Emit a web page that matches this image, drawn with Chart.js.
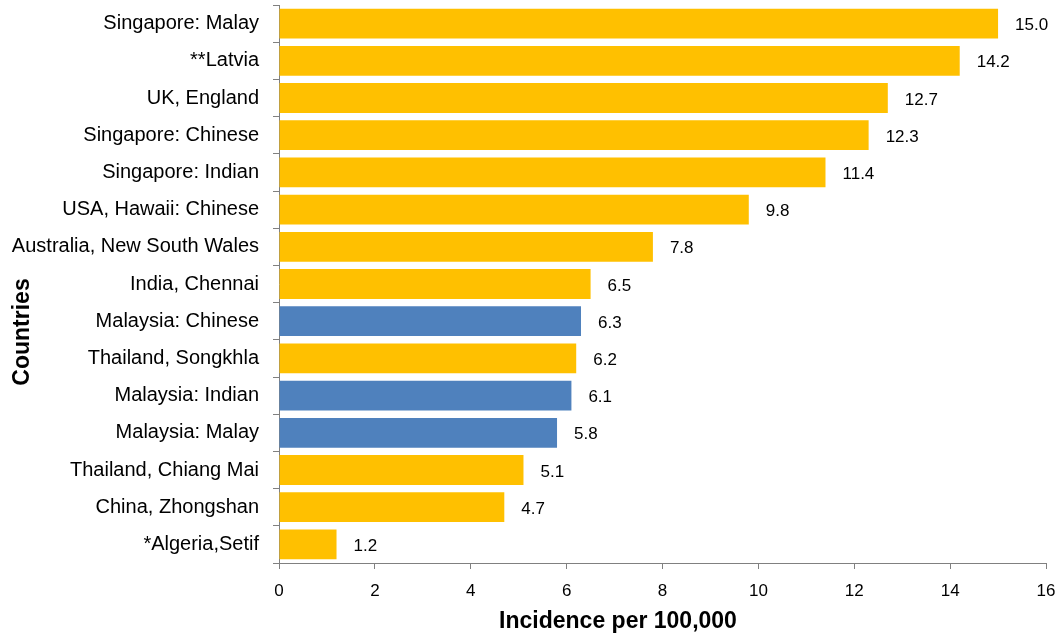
<!DOCTYPE html>
<html><head><meta charset="utf-8">
<script src="https://cdn.jsdelivr.net/npm/chart.js@4"></script>
<style>html,body{margin:0;padding:0;background:#fff;}#wrap{width:1063px;height:640px;}</style>
</head><body><div id="wrap"><canvas id="c" width="1063" height="640"></canvas></div>
<script>
const categories = ["Singapore: Malay","**Latvia","UK, England","Singapore: Chinese","Singapore: Indian","USA, Hawaii: Chinese","Australia, New South Wales","India, Chennai","Malaysia: Chinese","Thailand, Songkhla","Malaysia: Indian","Malaysia: Malay","Thailand, Chiang Mai","China, Zhongshan","*Algeria,Setif"];
const incidence = [15.0,14.2,12.7,12.3,11.4,9.8,7.8,6.5,6.3,6.2,6.1,5.8,5.1,4.7,1.2];
const isMalaysia = [false,false,false,false,false,false,false,false,true,false,true,true,false,false,false];
const xTicks = [0,2,4,6,8,10,12,14,16];
const xTitle = "Incidence per 100,000";
const yTitle = "Countries";

const FONT = "'Liberation Sans', Arial, sans-serif";

const labelPlugin = {
  id: 'vals',
  afterDatasetsDraw(chart) {
    const ctx = chart.ctx;
    const meta = chart.getDatasetMeta(0);
    ctx.save();
    ctx.font = "17px " + FONT;
    ctx.fillStyle = "#000";
    ctx.textAlign = "left";
    ctx.textBaseline = "middle";
    meta.data.forEach((bar, i) => {
      ctx.fillText(incidence[i].toFixed(1), bar.x + 17, bar.y + 2);
    });
    ctx.restore();
  }
};
const titlePlugin = {
  id: 'titles',
  afterDraw(chart) {
    const ctx = chart.ctx;
    ctx.save();
    ctx.font = "bold 23px " + FONT;
    ctx.fillStyle = "#000";
    ctx.textAlign = "center";
    ctx.textBaseline = "middle";
    ctx.fillText(xTitle, 618, 622);
    ctx.translate(23, 332);
    ctx.rotate(-Math.PI/2);
    ctx.fillText(yTitle, 0, 0);
    ctx.restore();
  }
};

new Chart(document.getElementById('c'), {
  type: 'bar',
  data: {
    labels: categories,
    datasets: [{
      data: incidence,
      backgroundColor: isMalaysia.map(m => m ? '#4F81BD' : '#FFC000'),
      barPercentage: 0.8,
      categoryPercentage: 1.0
    }]
  },
  options: {
    indexAxis: 'y',
    responsive: false,
    animation: false,
    devicePixelRatio: 1,
    layout: { padding: { top: 5, right: 17, left: 0, bottom: 0 } },
    plugins: { legend: { display: false }, tooltip: { enabled: false } },
    scales: {
      x: {
        min: 0, max: 16,
        afterBuildTicks(s) { s.ticks = xTicks.map(v => ({ value: v })); },
        afterFit(s) { s.height = 77; s.paddingLeft = 0; s.paddingRight = 0; },
        grid: { display: true, drawOnChartArea: false, tickLength: 6, color: '#808080', tickColor: '#808080' },
        border: { display: true, color: '#808080', width: 1 },
        ticks: { font: { family: FONT, size: 17 }, color: '#000', padding: 12, maxRotation: 0 }
      },
      y: {
        afterFit(s) { s.width = 279; s.paddingTop = 0; s.paddingBottom = 0; },
        grid: { display: true, drawOnChartArea: false, offset: true, tickLength: 6, color: '#808080', tickColor: '#808080' },
        border: { display: true, color: '#808080', width: 1 },
        ticks: { font: { family: FONT, size: 20 }, color: '#000', padding: 14, autoSkip: false }
      }
    }
  },
  plugins: [labelPlugin, titlePlugin]
});
</script></body></html>
